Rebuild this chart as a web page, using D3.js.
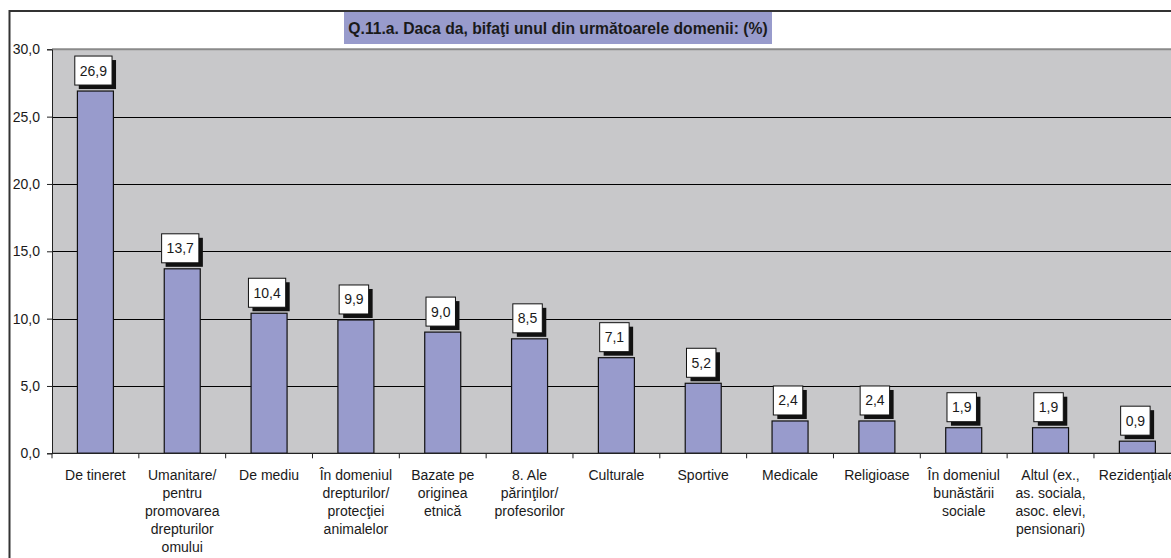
<!DOCTYPE html>
<html>
<head>
<meta charset="utf-8">
<script src="https://cdn.jsdelivr.net/npm/d3@7"></script>
<style>
  html, body { margin: 0; padding: 0; background: #fff; }
  svg { display: block; }
  text { font-family: "Liberation Sans", Arial, sans-serif; fill: #1a1a1a; }
</style>
</head>
<body>
<svg id="chart" width="1171" height="558"></svg>
<script>
const chartTitle = "Q.11.a. Daca da, bifaţi unul din următoarele domenii: (%)";
const categories = [
  ["De tineret"],
  ["Umanitare/", "pentru", "promovarea", "drepturilor", "omului"],
  ["De mediu"],
  ["În domeniul", "drepturilor/", "protecţiei", "animalelor"],
  ["Bazate pe", "originea", "etnică"],
  ["8. Ale", "părinţilor/", "profesorilor"],
  ["Culturale"],
  ["Sportive"],
  ["Medicale"],
  ["Religioase"],
  ["În domeniul", "bunăstării", "sociale"],
  ["Altul (ex.,", "as. sociala,", "asoc. elevi,", "pensionari)"],
  ["Rezidenţiale"]
];
const values = [26.9, 13.7, 10.4, 9.9, 9.0, 8.5, 7.1, 5.2, 2.4, 2.4, 1.9, 1.9, 0.9];
const yTicks = [0, 5, 10, 15, 20, 25, 30];
const fmt = v => v.toFixed(1).replace(".", ",");

const svg = d3.select("#chart");
const plotLeft = 52, band = 86.83;
const plotRight = plotLeft + band * categories.length;
const plotTop = 49.3, plotBottom = 453.3;

const x = d3.scaleBand().domain(d3.range(categories.length)).range([plotLeft, plotRight]).padding(0);
const y = d3.scaleLinear().domain([0, 30]).range([plotBottom, plotTop]);

// outer frame
svg.append("rect").attr("x", 9.5).attr("y", 11).attr("width", 1300).attr("height", 700)
  .attr("fill", "#fff").attr("stroke", "#333").attr("stroke-width", 2);

// plot background
svg.append("rect").attr("x", plotLeft).attr("y", plotTop).attr("width", plotRight - plotLeft).attr("height", plotBottom - plotTop)
  .attr("fill", "#c8c8ca");
svg.append("line").attr("x1", plotLeft).attr("x2", plotRight).attr("y1", plotTop).attr("y2", plotTop)
  .attr("stroke", "#8a8a8a").attr("stroke-width", 2);

// gridlines
svg.append("g").selectAll("line").data(yTicks.filter(t => t > 0 && t < 30)).join("line")
  .attr("x1", plotLeft).attr("x2", plotRight)
  .attr("y1", d => Math.round(y(d)) + 0.5).attr("y2", d => Math.round(y(d)) + 0.5)
  .attr("stroke", "#000").attr("stroke-width", 1);

// y axis
const yAxis = d3.axisLeft(y).tickValues(yTicks).tickFormat(fmt).tickSize(5).tickPadding(7);
const gy = svg.append("g").attr("transform", `translate(${plotLeft},0)`).call(yAxis);
gy.select(".domain").attr("stroke", "#222");
gy.selectAll(".tick line").attr("stroke", "#222");
gy.selectAll(".tick text").attr("font-size", 14).attr("font-family", "Liberation Sans, Arial, sans-serif").attr("fill", "#1a1a1a");

// bars
const barW = 36;
svg.append("g").selectAll("rect").data(values).join("rect")
  .attr("x", (d, i) => x(i) + x.bandwidth() / 2 - barW / 2)
  .attr("y", d => y(d))
  .attr("width", barW)
  .attr("height", d => plotBottom - y(d))
  .attr("fill", "#989bcc").attr("stroke", "#111").attr("stroke-width", 1.2);

// x axis
const xAxisLine = svg.append("g");
xAxisLine.append("line").attr("x1", plotLeft).attr("x2", plotRight).attr("y1", plotBottom).attr("y2", plotBottom)
  .attr("stroke", "#222").attr("stroke-width", 1.3);
xAxisLine.selectAll("line.tk").data(d3.range(categories.length + 1)).join("line").attr("class", "tk")
  .attr("x1", i => plotLeft + i * x.step()).attr("x2", i => plotLeft + i * x.step())
  .attr("y1", plotBottom).attr("y2", plotBottom + 5).attr("stroke", "#222");

// category labels
const cl = svg.append("g").selectAll("text").data(categories).join("text")
  .attr("text-anchor", "middle").attr("font-size", 14)
  .attr("x", (d, i) => x(i) + x.bandwidth() / 2)
  .attr("y", plotBottom + 27);
cl.each(function(lines, i) {
  d3.select(this).selectAll("tspan").data(lines).join("tspan")
    .attr("x", x(i) + x.bandwidth() / 2)
    .attr("dy", (d, k) => k === 0 ? 0 : 17.9)
    .text(d => d);
});

// data labels with shadow boxes
const lg = svg.append("g").selectAll("g").data(values).join("g");
lg.each(function(v, i) {
  const g = d3.select(this);
  const txt = fmt(v);
  const t = g.append("text").attr("font-size", 14).attr("text-anchor", "middle").text(txt);
  const w = t.node().getComputedTextLength() + 10;
  const h = 29;
  const cx = x(i) + x.bandwidth() / 2 - 2;
  const by = y(v) - 6 - h;
  g.insert("rect", "text").attr("x", cx - w / 2 + 4).attr("y", by + 4).attr("width", w).attr("height", h).attr("fill", "#111");
  g.insert("rect", "text").attr("x", cx - w / 2).attr("y", by).attr("width", w).attr("height", h)
    .attr("fill", "#fff").attr("stroke", "#111").attr("stroke-width", 1);
  t.attr("x", cx).attr("y", by + h / 2 + 5);
});

// title
svg.append("rect").attr("x", 344).attr("y", 12).attr("width", 428).attr("height", 32).attr("fill", "#989bcc");
svg.append("text").attr("x", 558).attr("y", 33.5).attr("text-anchor", "middle")
  .attr("font-size", 15.7).attr("font-weight", "bold").attr("fill", "#222").text(chartTitle);
</script>
</body>
</html>
